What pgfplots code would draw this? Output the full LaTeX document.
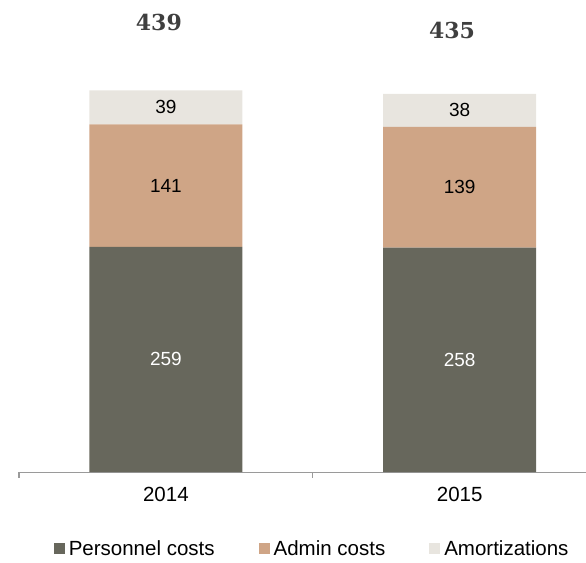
\documentclass[border=0pt]{standalone}
\usepackage{pgfplots}
\pgfplotsset{compat=1.18}
\usepackage{fontspec}
\setmainfont{Liberation Sans}
\newfontfamily\totalfont{DejaVu Serif}

\definecolor{personnel}{HTML}{67675C}
\definecolor{admin}{HTML}{CFA586}
\definecolor{amort}{HTML}{E8E5DF}
\definecolor{axisgray}{HTML}{9A9A9A}
\definecolor{totalgray}{HTML}{3F3F3F}

\begin{document}
\begin{tikzpicture}
\begin{axis}[
  scale only axis, width=567pt, height=472pt,
  ybar stacked, bar width=153pt,
  xmin=-0.5, xmax=1.43, ymin=0, ymax=543,
  hide y axis,
  axis x line*=bottom,
  x axis line style={draw=axisgray, line width=1pt},
  xtick={0,1}, xticklabels={2014,2015},
  major tick length=0pt,
  xticklabel style={font=\fontsize{20.5}{24}\selectfont, anchor=north, yshift=-12pt},
  clip=false,
  legend columns=3,
  legend cell align=left,
  legend style={draw=none, fill=none, at={(0.517,-0.163)},
    anchor=center, font=\fontsize{20.5}{24}\selectfont,
    /tikz/every odd column/.append style={column sep=2pt},
    /tikz/every even column/.append style={column sep=42pt}},
  legend image code/.code={\fill[#1] (0pt,-5.5pt) rectangle (11pt,5.5pt);},
]
\addplot[fill=personnel, draw=none] coordinates {(0,259) (1,258)};
\addlegendentry{Personnel costs}
\addplot[fill=admin, draw=none] coordinates {(0,141) (1,139)};
\addlegendentry{Admin costs}
\addplot[fill=amort, draw=none] coordinates {(0,39) (1,38)};
\addlegendentry{Amortizations}

\draw[axisgray, line width=1pt] (axis cs:-0.5,0) -- ++(0pt,-6pt);
\draw[axisgray, line width=1pt] (axis cs:0.5,0) -- ++(0pt,-6pt);

% label positions (segment centres), drawn after the axis so they sit above the bars
\coordinate (p14) at (axis cs:0,129.5);
\coordinate (a14) at (axis cs:0,329.5);
\coordinate (m14) at (axis cs:0,419.5);
\coordinate (p15) at (axis cs:1,129);
\coordinate (a15) at (axis cs:1,327.5);
\coordinate (m15) at (axis cs:1,416);
\coordinate (t14) at (axis cs:-0.024,517);
\coordinate (t15) at (axis cs:0.974,507.5);
\end{axis}
\begin{scope}[every node/.style={font=\fontsize{19}{22}\selectfont}]
\node[white] at (p14) {259};
\node at (a14) {141};
\node at (m14) {39};
\node[white] at (p15) {258};
\node at (a15) {139};
\node at (m15) {38};
\end{scope}
\node[font=\totalfont\bfseries\fontsize{22}{26}\selectfont, text=totalgray] at (t14) {439};
\node[font=\totalfont\bfseries\fontsize{22}{26}\selectfont, text=totalgray] at (t15) {435};
\pgfresetboundingbox
\path (-19pt,-90pt) rectangle (567pt,472pt);
\end{tikzpicture}
\end{document}
